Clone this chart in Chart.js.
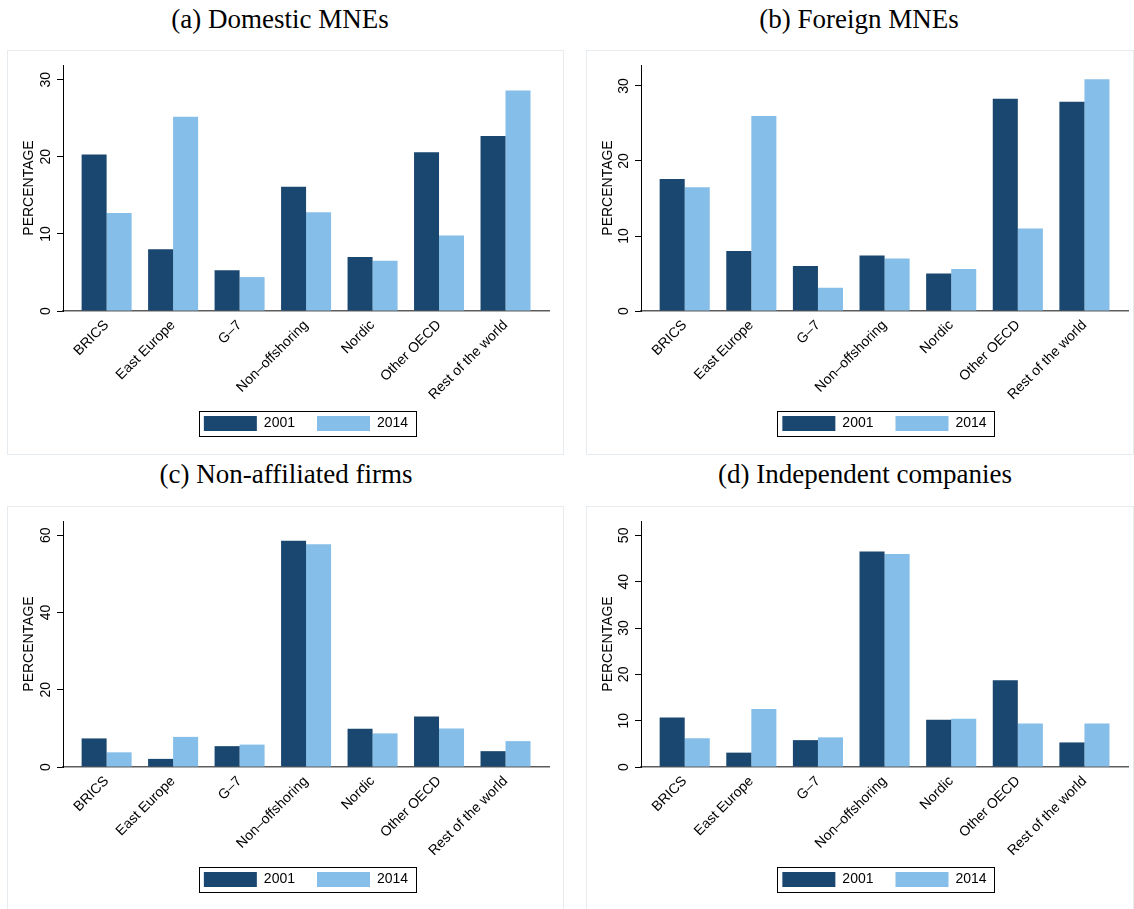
<!DOCTYPE html>
<html>
<head>
<meta charset="utf-8">
<script src="https://cdn.jsdelivr.net/npm/chart.js@4.4.1/dist/chart.umd.min.js"></script>
<style>
	body { margin: 0; background: #fff; width: 1134px; height: 909px; position: relative; overflow: hidden; }
	.ttl { position: absolute; font-family: "Liberation Serif", "Times New Roman", serif; font-size: 27px; line-height: 30px; color: #000; white-space: nowrap; transform: translateX(-50%); }
	.panel { position: absolute; height: 405px; border: 1px solid #e5ebee; box-sizing: border-box; background: #fff; }
	.panel canvas { position: absolute; left: 0; top: 0; }
</style>
</head>
<body>

<div class="ttl" style="left:280px; top:4px;">(a) Domestic MNEs</div>
<div class="ttl" style="left:859px; top:4px;">(b) Foreign MNEs</div>
<div class="ttl" style="left:286px; top:459px;">(c) Non-affiliated firms</div>
<div class="ttl" style="left:865px; top:459px;">(d) Independent companies</div>

<div class="panel" style="left:7px; top:50px; width:557px;"><canvas id="chartA" width="555" height="403"></canvas></div>
<div class="panel" style="left:586px; top:50px; width:548px;"><canvas id="chartB" width="546" height="403"></canvas></div>
<div class="panel" style="left:7px; top:506px; width:557px;"><canvas id="chartC" width="555" height="403"></canvas></div>
<div class="panel" style="left:586px; top:506px; width:548px;"><canvas id="chartD" width="546" height="403"></canvas></div>

<script>
// categories and series
const categories = ['BRICS', 'East Europe', 'G–7', 'Non–offshoring', 'Nordic', 'Other OECD', 'Rest of the world'];
const years = ['2001', '2014'];

const domestic2001 = [20.3, 8.0, 5.3, 16.1, 7.0, 20.6, 22.7];
const domestic2014 = [12.7, 25.2, 4.4, 12.8, 6.5, 9.8, 28.6];

const foreign2001 = [17.6, 8.0, 6.0, 7.4, 5.0, 28.3, 27.9];
const foreign2014 = [16.5, 26.0, 3.1, 7.0, 5.6, 11.0, 30.9];

const nonAffiliated2001 = [7.4, 2.1, 5.4, 58.6, 9.9, 13.1, 4.1];
const nonAffiliated2014 = [3.8, 7.8, 5.8, 57.7, 8.7, 10.0, 6.7];

const independent2001 = [10.7, 3.1, 5.8, 46.5, 10.2, 18.7, 5.3];
const independent2014 = [6.2, 12.5, 6.4, 46.0, 10.4, 9.4, 9.4];

const colors = ['#1a476f', '#84bee9'];
const sansFont = '"Liberation Sans", Arial, Helvetica, sans-serif';

// legend is centred under the plot area, pulled up a bit, and gets a frame
const legendFramePlugin = {
	id: 'legendFrame',
	afterLayout(chart) {
		const lg = chart.legend;
		lg.left = chart.chartArea.left;
		lg.right = chart.chartArea.right;
		lg.width = lg.right - lg.left;
		lg.top = chart.chartArea.bottom + 83;
		lg.bottom = lg.top + lg.height;
	},
	afterDraw(chart) {
		const lg = chart.legend;
		const ctx = chart.ctx;
		const pad = lg.options.labels.padding;
		const x0 = (lg.left + pad + lg.right - lg.lineWidths[0]) / 2;
		const w = lg.lineWidths[0] - pad;
		const y0 = lg.top + pad;
		ctx.save();
		ctx.strokeStyle = '#000';
		ctx.lineWidth = 1;
		ctx.strokeRect(Math.round(x0 - 5) + 0.5, Math.round(y0 - 5) + 0.5, Math.round(w + 13), 25);
		ctx.restore();
	}
};

function drawPanel(canvasId, series1, series2, yMax, yStep, rightPad, axisWidth) {
	const ctx = document.getElementById(canvasId);
	const toPoints = (vals) => vals.map((v, i) => ({ x: i, y: v }));

	new Chart(ctx, {
		type: 'bar',
		data: {
			datasets: [
				{ label: years[0], data: toPoints(series1), backgroundColor: colors[0], borderWidth: 0 },
				{ label: years[1], data: toPoints(series2), backgroundColor: colors[1], borderWidth: 0 }
			]
		},
		options: {
			responsive: false,
			animation: false,
			categoryPercentage: 0.752,
			barPercentage: 1.0,
			layout: { padding: { top: 14, right: rightPad, bottom: 6, left: 0 } },
			scales: {
				x: {
					type: 'linear',
					offset: false,
					min: -0.656,
					max: 6.654,
					grid: { display: false, drawTicks: false, offset: false },
					border: { display: true, color: '#5c5c5c', width: 1.5 },
					afterFit(scale) { scale.height = 90; },
					afterBuildTicks(scale) {
						scale.ticks = scale.ticks.filter(t => Number.isInteger(t.value) && t.value >= 0 && t.value < categories.length);
					},
					ticks: {
						stepSize: 1,
						includeBounds: false,
						autoSkip: false,
						minRotation: 45,
						maxRotation: 45,
						padding: 6,
						color: '#000',
						font: { family: sansFont, size: 14 },
						callback: (v) => categories[v]
					}
				},
				y: {
					min: 0,
					max: yMax,
					afterFit(scale) { scale.width = axisWidth; },
					grid: { display: true, drawOnChartArea: false, drawTicks: true, tickLength: 6, color: '#000', lineWidth: 1 },
					border: { display: true, color: '#000', width: 1 },
					ticks: {
						stepSize: yStep,
						includeBounds: false,
						minRotation: 90,
						maxRotation: 90,
						crossAlign: 'center',
						padding: 3,
						color: '#000',
						font: { family: sansFont, size: 14 }
					},
					title: {
						display: true,
						text: 'PERCENTAGE',
						color: '#000',
						padding: { top: 12.6, bottom: 0 },
						font: { family: sansFont, size: 14 }
					}
				}
			},
			plugins: {
				legend: {
					display: true,
					position: 'bottom',
					labels: {
						boxWidth: 53,
						boxHeight: 15,
						padding: 22,
						color: '#000',
						font: { family: sansFont, size: 14 }
					}
				},
				tooltip: { enabled: false }
			}
		},
		plugins: [legendFramePlugin]
	});
}

drawPanel('chartA', domestic2001, domestic2014, 31.9, 10, 14, 55);
drawPanel('chartB', foreign2001, foreign2014, 32.8, 10, 5, 54);
drawPanel('chartC', nonAffiliated2001, nonAffiliated2014, 63.7, 20, 14, 55);
drawPanel('chartD', independent2001, independent2014, 53.1, 10, 5, 54);
</script>
</body>
</html>
